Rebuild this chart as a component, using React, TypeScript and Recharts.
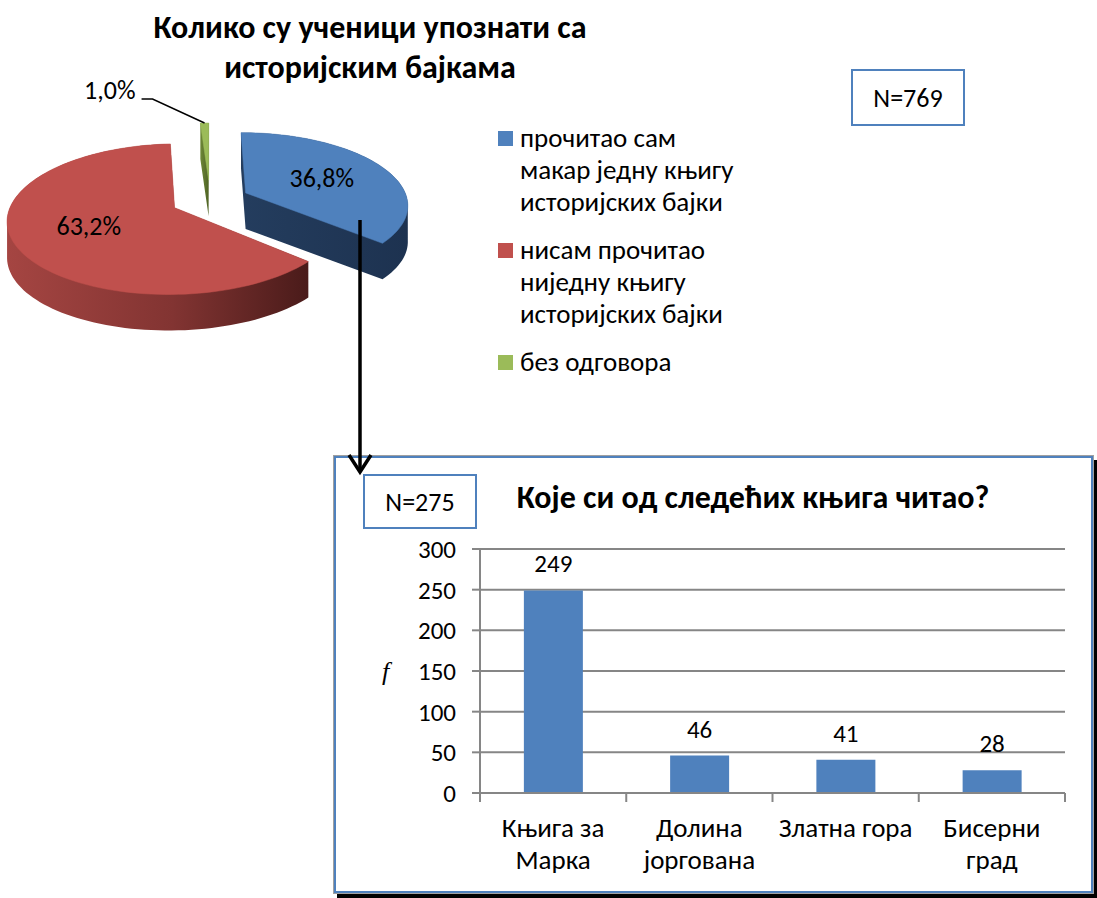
import React from "react";
import {
  PieChart,
  Pie,
  Cell,
  BarChart,
  Bar,
  XAxis,
  YAxis,
  CartesianGrid,
  LabelList,
} from "recharts";

// pie: how many pupils know the historical fairy tales
const pieTitle = ["Колико су ученици упознати са", "историјским бајкама"];
const pieLabels = [
  "прочитао сам макар једну књигу историјских бајки",
  "нисам прочитао ниједну књигу историјских бајки",
  "без одговора",
];
const pieLegendLines = [
  ["прочитао сам", "макар једну књигу", "историјских бајки"],
  ["нисам прочитао", "ниједну књигу", "историјских бајки"],
  ["без одговора"],
];
const piePercents = [36.8, 63.2, 1.0];
const pieSample = "N=769";

// bars: which books they read
const barTitle = "Које си од следећих књига читао?";
const bookTitles = ["Књига за\nМарка", "Долина\nјоргована", "Златна гора", "Бисерни\nград"];
const bookCounts = [249, 46, 41, 28];
const countTicks = [0, 50, 100, 150, 200, 250, 300];
const barSample = "N=275";
const axisLetter = "f";

const FONT = "Carlito, Calibri, Roboto, sans-serif";
const GRID = "#868686";
const sliceColors = ["#4F81BD", "#C0504D", "#9BBB59"];
const sliceSides = ["url(#sideBlue)", "url(#sideRed)", "url(#sideGreen)"];
const sliceExplode = [0.245, 0.24, 0.29];

// fake 3d look: squashed disc with a little perspective
const RAD = Math.PI / 180;
const TILT = 0.44;
const PERSP = 0.15;
const DEPTH = 36;

const project = (cx: number, cy: number, r: number, u: number, v: number) => {
  const s = 1 / (1 + PERSP * v);
  return [cx + r * u * s, cy - r * TILT * v * s];
};

const area = (pts: number[][]) => {
  let a = 0;
  for (let i = 0; i < pts.length; i++) {
    const p = pts[i];
    const q = pts[(i + 1) % pts.length];
    a += p[0] * q[1] - q[0] * p[1];
  }
  return a;
};

const toPath = (pts: number[][]) => {
  const list = area(pts) < 0 ? [...pts].reverse() : pts;
  return "M" + list.map((p) => p[0].toFixed(2) + "," + p[1].toFixed(2)).join("L") + "Z";
};

const sliceIndex = (p: any) =>
  typeof p.index === "number" ? p.index : pieLabels.indexOf(p.name ?? p.payload?.name);

const Slice3D = (props: any) => {
  const { cx, cy, outerRadius, startAngle, endAngle, fill } = props;
  const i = sliceIndex(props);
  const mid = ((startAngle + endAngle) / 2) * RAD;
  const eu = sliceExplode[i] * Math.cos(mid);
  const ev = sliceExplode[i] * Math.sin(mid);
  const pts: number[][] = [project(cx, cy, outerRadius, eu, ev)];
  const n = Math.max(4, Math.ceil(Math.abs(endAngle - startAngle) / 2));
  for (let k = 0; k <= n; k++) {
    const a = (startAngle + ((endAngle - startAngle) * k) / n) * RAD;
    pts.push(project(cx, cy, outerRadius, eu + Math.cos(a), ev + Math.sin(a)));
  }
  const low = pts.map((p) => [p[0], p[1] + DEPTH]);
  let side = toPath(low);
  for (let k = 0; k < pts.length; k++) {
    const j = (k + 1) % pts.length;
    side += toPath([pts[k], pts[j], low[j], low[k]]);
  }
  return (
    <g>
      <path d={side} fill={sliceSides[i]} stroke="none" />
      <path d={toPath(pts)} fill={fill} stroke={fill} strokeWidth={0.5} />
    </g>
  );
};

const renderSliceLabel = (p: any) => {
  const { cx, cy, outerRadius, startAngle, endAngle } = p;
  const i = sliceIndex(p);
  const mid = ((startAngle + endAngle) / 2) * RAD;
  const e = sliceExplode[i];
  const text = piePercents[i].toFixed(1).replace(".", ",") + "%";
  if (piePercents[i] < 5) {
    const [x0, y0] = project(cx, cy, outerRadius, (e + 1) * Math.cos(mid), (e + 1) * Math.sin(mid));
    return (
      <g>
        <polyline
          points={`${x0},${y0} ${x0 - 52},${y0 - 24} ${x0 - 63},${y0 - 24}`}
          fill="none"
          stroke="#000"
          strokeWidth={1.5}
        />
        <text x={x0 - 69} y={y0 - 24} textAnchor="end" fontSize={26} fontFamily={FONT} fill="#000">
          {text}
        </text>
      </g>
    );
  }
  const [x, y] = project(cx, cy, outerRadius, (e + 0.55) * Math.cos(mid), (e + 0.55) * Math.sin(mid));
  return (
    <text x={x} y={y} textAnchor="middle" dominantBaseline="central" fontSize={26} fontFamily={FONT} fill="#000">
      {text}
    </text>
  );
};

const BookTick = (props: any) => {
  const { x, y, payload, index } = props;
  const half = payload?.offset || 73;
  const lines = String(payload.value).split("\n");
  return (
    <g>
      <line x1={x - half} y1={y} x2={x - half} y2={y + 9} stroke={GRID} strokeWidth={2} />
      {index === bookTitles.length - 1 && (
        <line x1={x + half} y1={y} x2={x + half} y2={y + 9} stroke={GRID} strokeWidth={2} />
      )}
      <text x={x} y={y} textAnchor="middle" fontSize={27} fontFamily={FONT} fill="#000">
        {lines.map((l, k) => (
          <tspan key={k} x={x} dy={k === 0 ? 44 : 32}>
            {l}
          </tspan>
        ))}
      </text>
    </g>
  );
};

const boxStyle: React.CSSProperties = {
  position: "absolute",
  border: "2px solid #4F81BD",
  boxSizing: "border-box",
  display: "flex",
  alignItems: "center",
  justifyContent: "center",
  fontSize: 26,
  background: "#fff",
};

export default function App() {
  const pieData = pieLabels.map((name, i) => ({ name, value: piePercents[i] }));
  const barData = bookTitles.map((title, i) => ({ title, count: bookCounts[i] }));

  return (
    <div
      style={{
        position: "absolute",
        left: 0,
        top: 0,
        width: 1097,
        height: 898,
        background: "#fff",
        fontFamily: FONT,
        color: "#000",
        overflow: "hidden",
      }}
    >
      <svg width={0} height={0} style={{ position: "absolute" }}>
        <defs>
          <linearGradient id="sideRed" x1="0" y1="0" x2="1" y2="0">
            <stop offset="0" stopColor="#A54542" />
            <stop offset="0.55" stopColor="#823432" />
            <stop offset="1" stopColor="#4A1B1A" />
          </linearGradient>
          <linearGradient id="sideBlue" x1="0" y1="0" x2="1" y2="0">
            <stop offset="0" stopColor="#243D5E" />
            <stop offset="1" stopColor="#1D3250" />
          </linearGradient>
          <linearGradient id="sideGreen" x1="0" y1="0" x2="1" y2="0">
            <stop offset="0" stopColor="#6E8838" />
            <stop offset="1" stopColor="#4E6224" />
          </linearGradient>
        </defs>
      </svg>

      <div
        style={{
          position: "absolute",
          left: 120,
          top: 8,
          width: 500,
          textAlign: "center",
          fontWeight: "bold",
          fontSize: 32,
          lineHeight: "40px",
        }}
      >
        {pieTitle.map((t) => (
          <div key={t}>{t}</div>
        ))}
      </div>

      <div style={{ position: "absolute", left: 0, top: 0 }}>
        <PieChart width={460} height={360} margin={{ top: 0, right: 0, bottom: 0, left: 0 }}>
          <Pie
            data={pieData}
            dataKey="value"
            nameKey="name"
            cx={210}
            cy={200}
            outerRadius={162}
            startAngle={90}
            endAngle={-270}
            stroke="none"
            shape={Slice3D}
            label={renderSliceLabel}
            labelLine={false}
            isAnimationActive={false}
          >
            {pieData.map((d, i) => (
              <Cell key={d.name} fill={sliceColors[i]} />
            ))}
          </Pie>
        </PieChart>
      </div>

      <div style={{ position: "absolute", left: 498, top: 122 }}>
        {pieLegendLines.map((lines, i) => (
          <div key={i} style={{ position: "relative", marginBottom: 16, paddingLeft: 22 }}>
            <div
              style={{
                position: "absolute",
                left: 0,
                top: 9,
                width: 15,
                height: 15,
                background: sliceColors[i],
              }}
            />
            {lines.map((l) => (
              <div key={l} style={{ fontSize: 27, lineHeight: "32px", whiteSpace: "nowrap" }}>
                {l}
              </div>
            ))}
          </div>
        ))}
      </div>

      <div style={{ ...boxStyle, left: 851, top: 69, width: 114, height: 57 }}>{pieSample}</div>

      <div
        style={{
          position: "absolute",
          left: 334,
          top: 456,
          width: 759,
          height: 437,
          border: "2px solid #4F81BD",
          boxSizing: "border-box",
          boxShadow: "0 0 0 1px #a0a0a0, 4px 5px 0 1px #000",
          background: "#fff",
        }}
      />

      <div style={{ ...boxStyle, left: 363, top: 474, width: 114, height: 55 }}>{barSample}</div>

      <div
        style={{
          position: "absolute",
          left: 503,
          top: 481,
          width: 500,
          textAlign: "center",
          fontWeight: "bold",
          fontSize: 32,
          lineHeight: "34px",
        }}
      >
        {barTitle}
      </div>

      <div style={{ position: "absolute", left: 360, top: 520 }}>
        <BarChart
          width={720}
          height={370}
          data={barData}
          margin={{ top: 29, right: 15, bottom: 0, left: 0 }}
          barCategoryGap="30%"
        >
          <CartesianGrid vertical={false} stroke={GRID} strokeWidth={2} />
          <XAxis
            dataKey="title"
            height={97}
            interval={0}
            tickSize={0}
            tickMargin={0}
            tickLine={false}
            axisLine={{ stroke: GRID, strokeWidth: 2 }}
            tick={<BookTick />}
          />
          <YAxis
            domain={[0, 300]}
            ticks={countTicks}
            width={120}
            tickSize={8}
            tickMargin={16}
            axisLine={{ stroke: GRID, strokeWidth: 2 }}
            tickLine={{ stroke: GRID, strokeWidth: 2 }}
            tick={{ fill: "#000", fontSize: 25, fontFamily: FONT }}
            label={{
              value: axisLetter,
              position: "insideLeft",
              offset: 22,
              style: { fontStyle: "italic", fontSize: 26, fontFamily: "'Liberation Serif', serif", fill: "#000" },
            }}
          />
          <Bar dataKey="count" fill="#4F81BD" isAnimationActive={false}>
            <LabelList dataKey="count" position="top" offset={18} fill="#000" fontSize={25} fontFamily={FONT} />
          </Bar>
        </BarChart>
      </div>

      <svg
        width={1097}
        height={898}
        style={{ position: "absolute", left: 0, top: 0, pointerEvents: "none" }}
      >
        <line x1={360} y1={220} x2={360} y2={470} stroke="#000" strokeWidth={3.5} />
        <polyline points="349,455 360,472 371,455" fill="none" stroke="#000" strokeWidth={3.5} />
      </svg>
    </div>
  );
}
